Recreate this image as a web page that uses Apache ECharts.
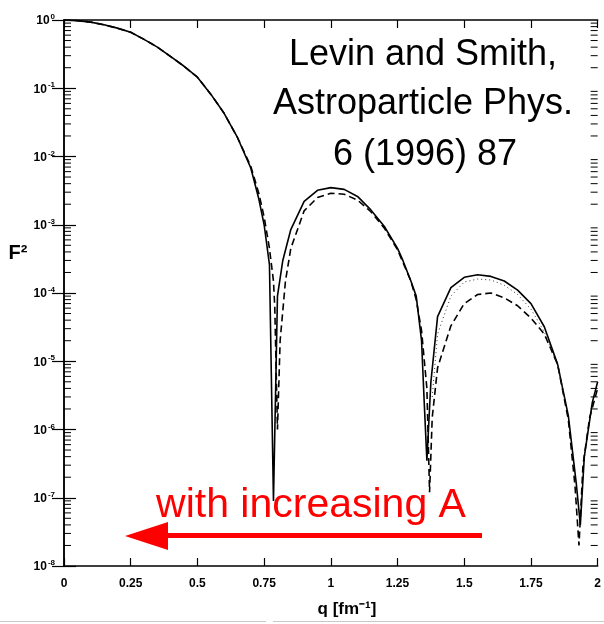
<!DOCTYPE html>
<html>
<head>
<meta charset="utf-8">
<script src="https://cdn.jsdelivr.net/npm/echarts@6/dist/echarts.min.js"></script>
<style>
html,body{margin:0;padding:0;background:#fff;}
#chart{width:604px;height:624px;}
</style>
</head>
<body>
<div id="chart"></div>
<script>
// ---- data ----
const xTickLabels = ['0', '0.25', '0.5', '0.75', '1', '1.25', '1.5', '1.75', '2'];
const yTickBase = '10';
const yTickExponents = ['0', '-1', '-2', '-3', '-4', '-5', '-6', '-7', '-8'];
const minorMultipliers = [2, 3, 4, 5, 6, 7, 8, 9];

const qSolid = [0, 0.05, 0.1, 0.15, 0.2, 0.25, 0.3, 0.35, 0.4, 0.45, 0.5, 0.55, 0.6, 0.65, 0.7, 0.73, 0.75, 0.77, 0.785,
  0.8, 0.82, 0.85, 0.9, 0.95, 1.0, 1.05, 1.1, 1.15, 1.2, 1.25, 1.27, 1.3, 1.32, 1.34, 1.35, 1.36, 1.375,
  1.4, 1.45, 1.5, 1.55, 1.6, 1.65, 1.7, 1.75, 1.8, 1.85, 1.89, 1.92, 1.935, 1.95, 1.98, 2.0];
const f2Solid = [1.0, 0.98, 0.93, 0.85, 0.76, 0.66, 0.52, 0.40, 0.29, 0.21, 0.145, 0.082, 0.043, 0.019, 0.0068, 0.0024, 0.0010, 0.00026, 9e-8,
  9e-5, 3e-4, 8.5e-4, 2.2e-3, 3.2e-3, 3.5e-3, 3.3e-3, 2.6e-3, 1.65e-3, 9.5e-4, 4.5e-4, 3e-4, 1.5e-4, 9e-5, 2e-5, 2.5e-6, 3.5e-7, 5e-6,
  4.5e-5, 1.2e-4, 1.7e-4, 1.85e-4, 1.75e-4, 1.5e-4, 1.1e-4, 7e-5, 3.2e-5, 9e-6, 1.6e-6, 1.6e-7, 4e-8, 4e-7, 2.5e-6, 5e-6];

const qDashed = [0, 0.05, 0.1, 0.15, 0.2, 0.25, 0.3, 0.35, 0.4, 0.45, 0.5, 0.55, 0.6, 0.65, 0.7, 0.73, 0.75, 0.77, 0.785, 0.79,
  0.8, 0.81, 0.83, 0.85, 0.9, 0.95, 1.0, 1.05, 1.1, 1.15, 1.2, 1.25, 1.3, 1.32, 1.34, 1.36, 1.37, 1.38,
  1.4, 1.45, 1.5, 1.55, 1.6, 1.65, 1.7, 1.75, 1.8, 1.85, 1.89, 1.915, 1.93, 1.945, 1.97, 2.0];
const f2Dashed = [1.0, 0.98, 0.93, 0.85, 0.76, 0.66, 0.52, 0.40, 0.29, 0.21, 0.145, 0.082, 0.043, 0.019, 0.0072, 0.0029, 0.0013, 0.00045, 1.5e-4, 6e-5,
  1e-6, 2e-5, 1.5e-4, 4.5e-4, 1.6e-3, 2.5e-3, 2.9e-3, 2.8e-3, 2.3e-3, 1.55e-3, 9e-4, 4.3e-4, 1.5e-4, 8e-5, 2.8e-5, 4e-6, 1.2e-7, 1.5e-6,
  8e-6, 3.3e-5, 7e-5, 9.5e-5, 1e-4, 8.5e-5, 6.5e-5, 4.3e-5, 2.5e-5, 9e-6, 1.4e-6, 1.5e-7, 2e-8, 3e-7, 1.5e-6, 4e-6];

const qDotted = [1.38, 1.4, 1.45, 1.5, 1.55, 1.6, 1.65, 1.7, 1.75, 1.8, 1.85, 1.88];
const f2Dotted = [3e-6, 2.5e-5, 9e-5, 1.45e-4, 1.6e-4, 1.55e-4, 1.3e-4, 9.5e-5, 5.8e-5, 2.7e-5, 8.5e-6, 2.5e-6];

const noteLines = ['Levin and Smith,', 'Astroparticle Phys.', '6 (1996) 87'];
const arrowText = 'with increasing A';
const yName = 'F²';
const xName = 'q [fm⁻¹]';

// ---- chart ----
const pairs = (xs, ys) => xs.map((x, i) => [x, ys[i]]);
const minorTickValues = [];
yTickExponents.slice(0, 8).forEach((e) => {
  minorMultipliers.forEach((m) => minorTickValues.push(m * Math.pow(10, Number(e) - 1)));
});

const chart = echarts.init(document.getElementById('chart'), null, {renderer: 'canvas'});
const font = 'Liberation Sans, Arial, sans-serif';

const xBase = {
  type: 'value', min: 0, max: 2, interval: 0.25,
  axisLine: {lineStyle: {color: '#000', width: 1.5}},
  axisTick: {inside: true, length: 8, lineStyle: {color: '#000', width: 1.2}},
  splitLine: {show: false}
};
const yBase = {
  type: 'log', logBase: 10, min: 1e-8, max: 1, interval: 1, splitNumber: 8,
  axisLine: {show: true, lineStyle: {color: '#000', width: 1.5}},
  axisTick: {show: true, inside: true, length: 12, lineStyle: {color: '#000', width: 1.2}},
  minorTick: {show: false},
  splitLine: {show: false}
};

function minorTickRenderer(side) {
  return function (params, api) {
    const v = api.value(0);
    const p = api.coord([side === 'left' ? 0 : 2, v]);
    const len = 7;
    const x2 = side === 'left' ? p[0] + len : p[0] - len;
    return {
      type: 'line',
      shape: {x1: p[0], y1: p[1], x2: x2, y2: p[1]},
      style: {stroke: '#000', lineWidth: 1}
    };
  };
}

chart.setOption({
  animation: false,
  backgroundColor: '#fff',
  grid: {left: 64, top: 20, width: 540, height: 546, containLabel: false},
  xAxis: [
    Object.assign({}, xBase, {
      position: 'bottom',
      axisLabel: {
        margin: 12, color: '#000', fontSize: 12, fontWeight: 'bold', fontFamily: font,
        formatter: (v) => xTickLabels[Math.round(v / 0.25)] || ''
      }
    }),
    Object.assign({}, xBase, {position: 'top', axisLabel: {show: false}})
  ],
  yAxis: [
    Object.assign({}, yBase, {
      position: 'left',
      axisLabel: {
        margin: 9, color: '#000', fontFamily: font,
        formatter: (v) => {
          const i = -Math.round(Math.log10(v));
          return '{b|' + yTickBase + '}{s|' + (yTickExponents[i] || '') + '}';
        },
        rich: {
          b: {fontSize: 12, fontWeight: 'bold', fontFamily: font, color: '#000', verticalAlign: 'bottom'},
          s: {fontSize: 8, fontWeight: 'bold', fontFamily: font, color: '#000', verticalAlign: 'bottom', padding: [0, 0, 6, 1]}
        }
      }
    }),
    Object.assign({}, yBase, {position: 'right', axisLabel: {show: false}})
  ],
  series: [
    {type: 'line', xAxisIndex: 0, yAxisIndex: 0, data: pairs(qSolid, f2Solid), showSymbol: false,
      lineStyle: {color: '#000', width: 1.6, type: 'solid'}},
    {type: 'line', xAxisIndex: 0, yAxisIndex: 0, data: pairs(qDashed, f2Dashed), showSymbol: false,
      lineStyle: {color: '#000', width: 1.6, type: [7, 4]}},
    {type: 'line', xAxisIndex: 0, yAxisIndex: 0, data: pairs(qDotted, f2Dotted), showSymbol: false,
      lineStyle: {color: '#333', width: 1, type: [1, 3]}},
    {type: 'custom', xAxisIndex: 0, yAxisIndex: 0, clip: false, silent: true,
      encode: {y: 0}, data: minorTickValues.map((v) => [v]), renderItem: minorTickRenderer('left')},
    {type: 'custom', xAxisIndex: 0, yAxisIndex: 0, clip: false, silent: true,
      encode: {y: 0}, data: minorTickValues.map((v) => [v]), renderItem: minorTickRenderer('right')}
  ],
  graphic: [
    {type: 'text', x: 423, y: 55, style: {text: noteLines[0], font: '36px ' + font, fill: '#000', align: 'center', verticalAlign: 'middle'}},
    {type: 'text', x: 423, y: 104, style: {text: noteLines[1], font: '36px ' + font, fill: '#000', align: 'center', verticalAlign: 'middle'}},
    {type: 'text', x: 425, y: 155, style: {text: noteLines[2], font: '36px ' + font, fill: '#000', align: 'center', verticalAlign: 'middle'}},
    {type: 'text', x: 311, y: 506, style: {text: arrowText, font: '41px ' + font, fill: '#ff0000', align: 'center', verticalAlign: 'middle'}},
    {type: 'rect', shape: {x: 164, y: 533, width: 318, height: 5}, style: {fill: '#ff0000'}},
    {type: 'polygon', shape: {points: [[125, 536], [168, 522], [168, 550]]}, style: {fill: '#ff0000'}},
    {type: 'text', x: 18, y: 253, style: {text: yName, font: 'bold 20px ' + font, fill: '#000', align: 'center', verticalAlign: 'middle'}},
    {type: 'text', x: 347, y: 609, style: {text: xName, font: 'bold 17px ' + font, fill: '#000', align: 'center', verticalAlign: 'middle'}},
    {type: 'rect', shape: {x: 0, y: 621, width: 266, height: 1}, style: {fill: '#c8c8c8'}},
    {type: 'rect', shape: {x: 273, y: 621, width: 331, height: 1}, style: {fill: '#c8c8c8'}}
  ]
});
</script>
</body>
</html>
